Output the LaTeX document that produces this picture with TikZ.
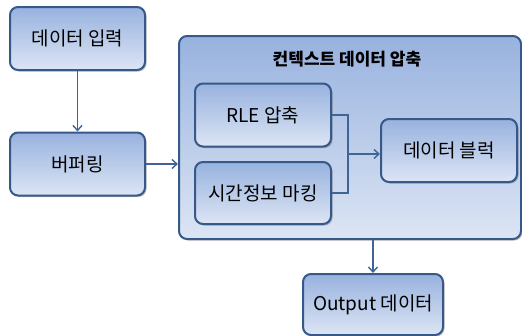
\documentclass[tikz,border=0pt]{standalone}
\usepackage{fontspec}
\setmainfont{Noto Sans CJK KR}
\usetikzlibrary{shadows,arrows.meta}
\definecolor{bord}{HTML}{36598A}
\definecolor{topc}{HTML}{98B2DF}
\definecolor{botc}{HTML}{DCE5F4}
\definecolor{linec}{HTML}{3F6595}
\tikzset{
  blk/.style={draw=bord, line width=2pt, rounded corners=8pt, top color=topc, bottom color=botc,
    drop shadow={shadow xshift=1.5pt, shadow yshift=-1.5pt, opacity=0.35, fill=black!70},
    font=\fontsize{19}{21}\selectfont, inner sep=0pt},
  conn/.style={draw=linec, line width=1.4pt},
  arr/.style={conn, -{Straight Barb[length=5pt,width=9pt]}}
}
\begin{document}
\begin{tikzpicture}[x=1pt,y=-1pt]
\useasboundingbox (0,0) rectangle (522,335);
% big box
\node[blk, minimum width=342pt, minimum height=203pt, anchor=north west] (big) at (178,35) {};
\node[font=\fontsize{17}{19}\selectfont\bfseries] (title) at (347,59) {컨텍스트 데이터 압축};
\node[blk, minimum width=135pt, minimum height=63pt] (in) at (77.5,38.5) {데이터 입력};
\node[blk, minimum width=135pt, minimum height=63pt] (buf) at (77.5,164) {버퍼링};
\node[blk, minimum width=136pt, minimum height=63pt] (rle) at (263,115) {RLE 압축};
\node[blk, minimum width=136pt, minimum height=62pt] (time) at (263,193) {시간정보 마킹};
\node[blk, minimum width=136pt, minimum height=63pt] (blkk) at (449,150.5) {데이터 블럭};
\node[blk, minimum width=140pt, minimum height=61pt, anchor=north] (out) at (373,273) {Output 데이터};
\coordinate (j) at (348,154);
\draw[arr] (in) -- (buf);
\draw[arr] (buf.east) -- (big.west |- buf.east);
\draw[conn] (rle.east) -| (j) |- (time.east);
\draw[arr] (j) -- (blkk.west |- j);
\draw[arr] (big.south -| out.north) -- (out.north);
\end{tikzpicture}
\end{document}
